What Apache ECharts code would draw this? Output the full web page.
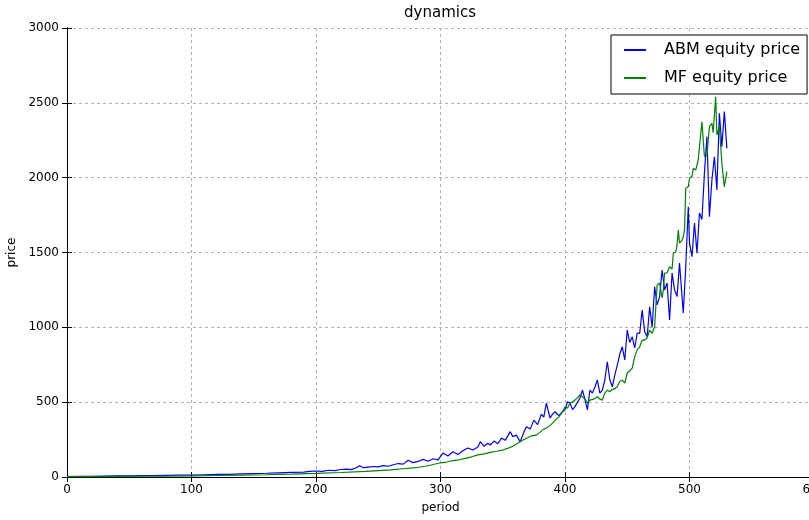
<!DOCTYPE html>
<html>
<head>
<meta charset="utf-8">
<script src="https://cdn.jsdelivr.net/npm/echarts@6/dist/echarts.min.js"></script>
<style>html,body{margin:0;padding:0;background:#fff;}#c{width:809px;height:520px;}</style>
</head>
<body>
<div id="c"></div>
<script>
var xTicks = [0, 100, 200, 300, 400, 500, 600];
var yTicks = [0, 500, 1000, 1500, 2000, 2500, 3000];

var abmPeriods = [0,10,20,30,40,50,60,70,80,90,100,110,120,130,140,150,160,170,180,190,195,200,205,210,215,220,225,228,232,235,238,242,246,250,254,258,262,266,270,274,278,282,286,290,294,298,302,306,310,314,318,322,326,330,332,335,338,340,343,346,349,352,356,358,361,364,367,369,372,375,378,381,383,385,388,390,392,395,398,400,402,404,406,408,410,412,414,416,418,420,422,424,426,428,430,432,434,436,438,440,442,444,446,448,450,452,454,456,458,460,462,464,466,468,470,472,474,476,478,480,482,484,486,488,490,492,493,495,497,499,500,502,504,506,508,510,512,514,516,518,520,522,524,526,528,530];
var abmValues = [3,4,5,6,7,8,9,10,11,12,13,15,17,18,21,23,25,28,31,33,38,40,37,45,43,50,53,49,60,75,62,66,70,68,76,72,82,90,86,112,96,104,118,105,122,115,160,140,169,150,175,194,180,200,236,205,225,214,240,222,260,245,303,270,280,236,300,336,320,380,350,420,400,494,394,420,436,410,436,448,503,494,450,470,500,528,581,520,448,581,561,600,648,560,581,648,770,650,603,680,748,820,870,782,982,900,937,862,962,960,1116,971,937,1138,1000,1271,1150,1205,1383,1250,1296,1049,1363,1250,1205,1430,1316,1096,1405,1806,1563,1472,1697,1496,1764,1720,2031,2274,1739,1984,2140,1918,2430,2207,2441,2196];

var mfPeriods = [0,20,40,60,80,100,120,140,160,180,200,220,240,260,270,280,290,300,305,310,315,320,325,330,335,340,345,350,355,358,361,364,367,370,373,377,380,383,385,388,390,392,395,398,400,402,404,406,408,410,412,414,416,418,420,423,426,428,430,432,434,436,438,440,442,444,446,448,450,452,454,456,458,460,462,464,466,468,470,471,472,474,476,478,479,480,482,484,486,487,489,490,491,492,494,495,496,497,499,500,502,503,505,507,508,510,512,514,516,518,519,521,522,524,526,528,530];
var mfValues = [2,3,4,5,6,8,10,12,15,19,24,30,38,48,55,62,75,95,100,110,115,125,135,148,155,165,172,180,195,205,220,236,250,262,275,280,300,320,327,345,360,380,400,436,470,460,494,500,514,530,548,536,520,494,514,520,536,520,514,561,581,570,585,590,603,640,648,628,695,710,728,804,850,870,915,915,930,982,960,982,1004,1283,1296,1196,1249,1363,1363,1405,1390,1496,1505,1550,1650,1563,1583,1605,1650,1929,1940,1996,2010,2063,2051,2118,2207,2374,2140,2151,2341,2363,2300,2541,2285,2341,2096,1940,2040];

var seriesNames = ['ABM equity price', 'MF equity price'];

function pairs(p, v) { return p.map(function (x, i) { return [x, v[i]]; }); }
function plain(v) { return String(v); }

var font = 'DejaVu Sans';
var chart = echarts.init(document.getElementById('c'), null, {renderer: 'canvas'});
var gridLine = {show: true, lineStyle: {color: '#b0b0b0', type: [3, 3], width: 1}};
chart.setOption({
  animation: false,
  backgroundColor: '#fff',
  textStyle: {fontFamily: font},
  title: {
    text: 'dynamics', left: 440, top: 6, padding: 0, textAlign: 'center',
    textStyle: {fontFamily: font, fontSize: 15, fontWeight: 'normal', color: '#000'}
  },
  legend: {
    data: seriesNames, orient: 'vertical', left: 611, top: 35,
    padding: [7, 7, 8, 12], itemWidth: 22, itemHeight: 14, itemGap: 12,
    borderColor: '#000', borderWidth: 1, backgroundColor: '#fff', borderRadius: 0,
    itemStyle: {opacity: 0},
    textStyle: {fontFamily: font, fontSize: 16, color: '#000', padding: [0, 0, 0, 13]}
  },
  grid: {left: 67, right: -5, top: 28, bottom: 43, containLabel: false, outerBoundsMode: 'none'},
  xAxis: [{
    type: 'value', min: xTicks[0], max: xTicks[xTicks.length - 1], interval: 100,
    name: 'period', nameLocation: 'middle', nameGap: 25,
    nameTextStyle: {fontFamily: font, fontSize: 12, color: '#000'},
    axisLine: {show: true, lineStyle: {color: '#000', width: 1}},
    axisTick: {show: true, inside: true, length: 5, lineStyle: {color: '#000'}},
    axisLabel: {fontFamily: font, fontSize: 12, color: '#000', margin: 7, formatter: plain},
    splitLine: gridLine
  }, {
    type: 'value', position: 'top', min: 0, max: 600, interval: 100,
    axisLine: {show: true, lineStyle: {color: '#000', width: 1}},
    axisTick: {show: true, inside: true, length: 5, lineStyle: {color: '#000'}},
    axisLabel: {show: false}, splitLine: {show: false}
  }],
  yAxis: [{
    type: 'value', min: yTicks[0], max: yTicks[yTicks.length - 1], interval: 500,
    name: 'price', nameLocation: 'middle', nameGap: 49,
    nameTextStyle: {fontFamily: font, fontSize: 12, color: '#000'},
    axisLine: {show: true, lineStyle: {color: '#000', width: 1}},
    axisTick: {show: true, inside: true, length: 5, lineStyle: {color: '#000'}},
    axisLabel: {fontFamily: font, fontSize: 12, color: '#000', margin: 8, formatter: plain},
    splitLine: gridLine
  }, {
    type: 'value', position: 'right', min: 0, max: 3000, interval: 500,
    axisLine: {show: true, lineStyle: {color: '#000', width: 1}},
    axisTick: {show: true, inside: true, length: 5, lineStyle: {color: '#000'}},
    axisLabel: {show: false}, splitLine: {show: false}
  }],
  series: [{
    name: seriesNames[0], type: 'line', symbol: 'none', showSymbol: false,
    data: pairs(abmPeriods, abmValues),
    itemStyle: {color: '#0000ff'}, lineStyle: {color: '#0000ff', width: 1.2}
  }, {
    name: seriesNames[1], type: 'line', symbol: 'none', showSymbol: false,
    data: pairs(mfPeriods, mfValues),
    itemStyle: {color: '#008000'}, lineStyle: {color: '#008000', width: 1.2}
  }]
});
</script>
</body>
</html>
